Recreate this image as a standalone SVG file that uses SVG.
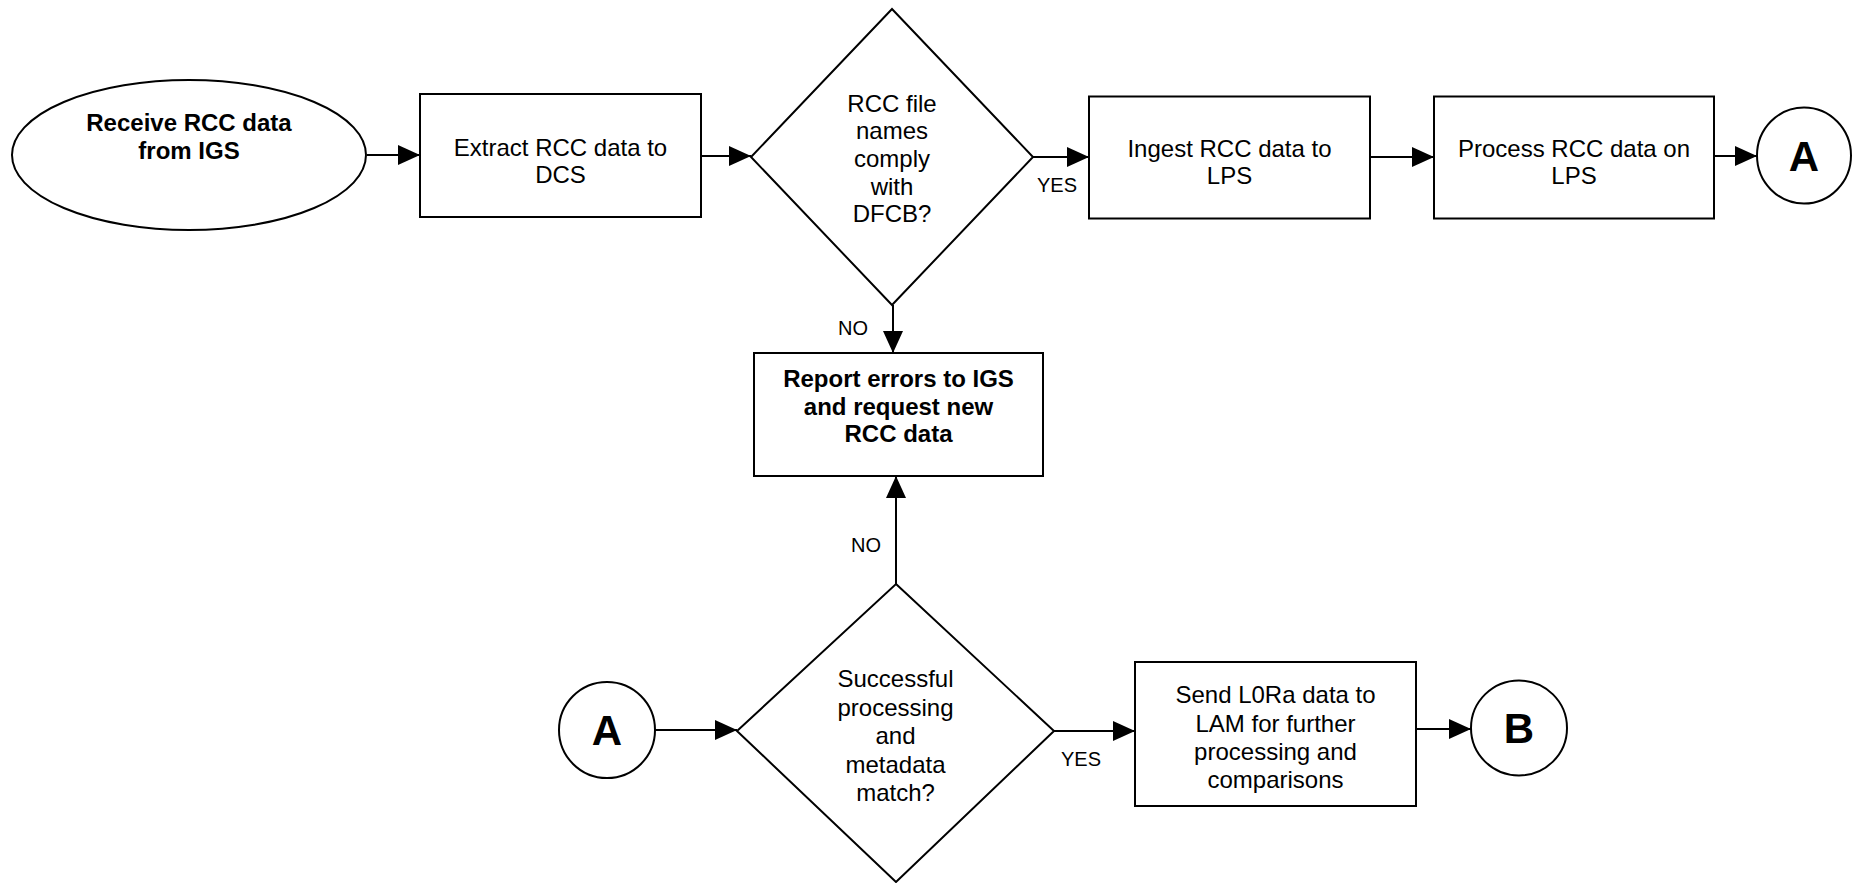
<svg xmlns="http://www.w3.org/2000/svg" width="1860" height="883" viewBox="0 0 1860 883">
<style>
.shape{fill:#fff;stroke:#000;stroke-width:2}
.t{font-family:"Liberation Sans",Arial,sans-serif;font-size:24px;fill:#000;text-anchor:middle}
.b{font-weight:bold}
.lbl{font-family:"Liberation Sans",Arial,sans-serif;font-size:20px;fill:#000;text-anchor:middle}
.big{font-family:"Liberation Sans",Arial,sans-serif;font-size:42px;font-weight:bold;fill:#000;text-anchor:middle}
.c{fill:none;stroke:#000;stroke-width:2;marker-end:url(#ah)}
</style>
<defs>
<marker id="ah" markerUnits="userSpaceOnUse" markerWidth="23" markerHeight="22" refX="22" refY="10" orient="auto">
<path d="M0,0 L22,10 L0,20 z" fill="#000"/>
</marker>
</defs>
<rect width="1860" height="883" fill="#fff"/>
<g id="connectors">
<line class="c" x1="367" y1="155" x2="420" y2="155"/>
<line class="c" x1="701" y1="156" x2="751" y2="156"/>
<line class="c" x1="1033" y1="157" x2="1089" y2="157"/>
<line class="c" x1="1370" y1="157" x2="1434" y2="157"/>
<line class="c" x1="1714" y1="156" x2="1757" y2="156"/>
<line class="c" x1="893" y1="305" x2="893" y2="353"/>
<line class="c" x1="896" y1="584" x2="896" y2="476"/>
<line class="c" x1="655" y1="730" x2="737" y2="730"/>
<line class="c" x1="1054" y1="731" x2="1135" y2="731"/>
<line class="c" x1="1416" y1="729" x2="1471" y2="729"/>
<text class="lbl" x="1057" y="192">YES</text>
<text class="lbl" x="853" y="335">NO</text>
<text class="lbl" x="866" y="552">NO</text>
<text class="lbl" x="1081" y="766">YES</text>
</g>
<g id="start">
<ellipse class="shape" cx="189" cy="155" rx="177" ry="75"/>
<text class="t b" x="189" y="131">Receive RCC data</text>
<text class="t b" x="189" y="159">from IGS</text>
</g>
<g id="extract">
<rect class="shape" x="420" y="94" width="281" height="123"/>
<text class="t" x="560.5" y="156">Extract RCC data to</text>
<text class="t" x="560.5" y="183">DCS</text>
</g>
<g id="decision1">
<polygon class="shape" points="892,9 1033,157 892,305 751,157"/>
<text class="t" x="892" y="111.5">RCC file</text>
<text class="t" x="892" y="139">names</text>
<text class="t" x="892" y="166.5">comply</text>
<text class="t" x="892" y="194.5">with</text>
<text class="t" x="892" y="222">DFCB?</text>
</g>
<g id="ingest">
<rect class="shape" x="1089" y="96.5" width="281" height="122"/>
<text class="t" x="1229.5" y="156.5">Ingest RCC data to</text>
<text class="t" x="1229.5" y="184">LPS</text>
</g>
<g id="process">
<rect class="shape" x="1434" y="96.5" width="280" height="122"/>
<text class="t" x="1574" y="156.5">Process RCC data on</text>
<text class="t" x="1574" y="184">LPS</text>
</g>
<g id="connectorA1">
<ellipse class="shape" cx="1804" cy="155.5" rx="47" ry="48"/>
<text class="big" x="1804" y="170.5">A</text>
</g>
<g id="report">
<rect class="shape" x="754" y="353" width="289" height="123"/>
<text class="t b" x="898.5" y="387">Report errors to IGS</text>
<text class="t b" x="898.5" y="414.5">and request new</text>
<text class="t b" x="898.5" y="442">RCC data</text>
</g>
<g id="connectorA2">
<circle class="shape" cx="607" cy="730" r="48"/>
<text class="big" x="607" y="745">A</text>
</g>
<g id="decision2">
<polygon class="shape" points="896,584 1054,731 896,882 737,731"/>
<text class="t" x="895.5" y="687">Successful</text>
<text class="t" x="895.5" y="715.5">processing</text>
<text class="t" x="895.5" y="744">and</text>
<text class="t" x="895.5" y="772.5">metadata</text>
<text class="t" x="895.5" y="801">match?</text>
</g>
<g id="send">
<rect class="shape" x="1135" y="662" width="281" height="144"/>
<text class="t" x="1275.5" y="703">Send L0Ra data to</text>
<text class="t" x="1275.5" y="731.5">LAM for further</text>
<text class="t" x="1275.5" y="760">processing and</text>
<text class="t" x="1275.5" y="787.5">comparisons</text>
</g>
<g id="connectorB">
<ellipse class="shape" cx="1519" cy="728" rx="48" ry="47.5"/>
<text class="big" x="1519" y="743">B</text>
</g>
</svg>
